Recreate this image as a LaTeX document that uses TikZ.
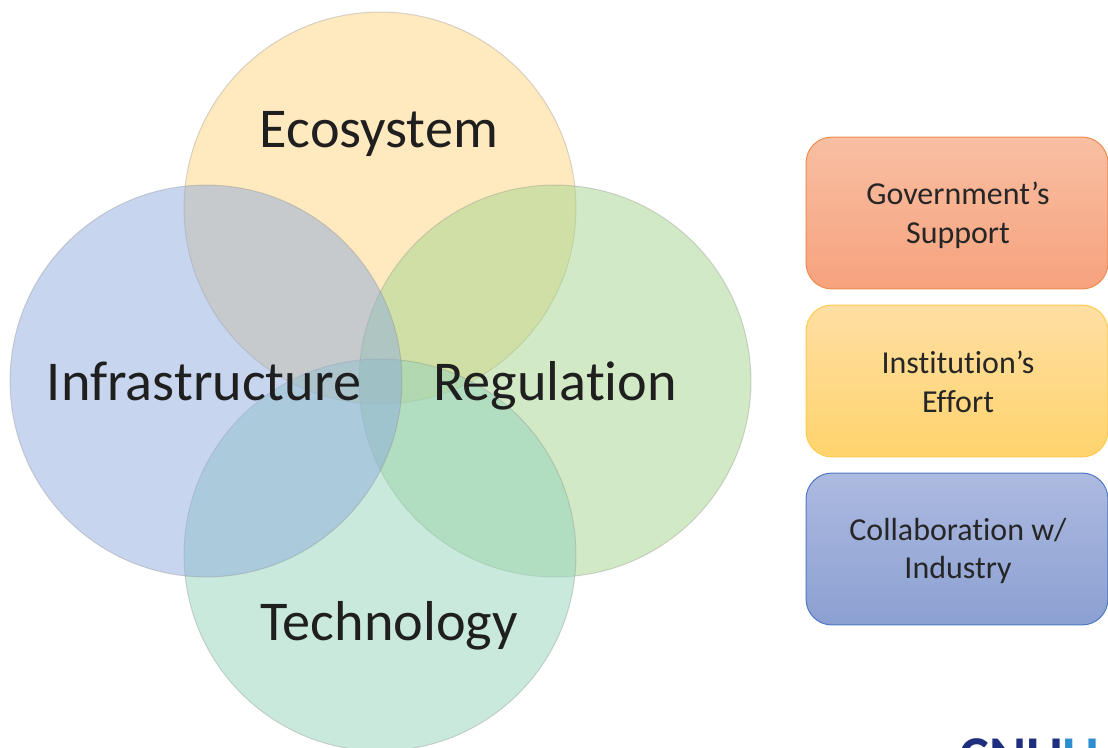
\documentclass[tikz,border=0pt]{standalone}
\usepackage{fontspec}
\setmainfont{Carlito}[Ligatures=NoCommon]
\definecolor{ecosystemfill}{HTML}{FFD57F}
\definecolor{infrafill}{HTML}{8FABDD}
\definecolor{regulationfill}{HTML}{A3D58C}
\definecolor{technologyfill}{HTML}{93D3BB}
\definecolor{supporttop}{HTML}{F8BFA3}
\definecolor{supportbottom}{HTML}{F7A27D}
\definecolor{supportline}{HTML}{EE8B4E}
\definecolor{efforttop}{HTML}{FFDFA3}
\definecolor{effortbottom}{HTML}{FFD36C}
\definecolor{effortline}{HTML}{FFCB4F}
\definecolor{industrytop}{HTML}{ADBAE0}
\definecolor{industrybottom}{HTML}{8BA0D2}
\definecolor{industryline}{HTML}{4F78C6}
\definecolor{logodark}{HTML}{1F2F80}
\definecolor{logolight}{HTML}{2E8FD0}
\begin{document}
\begin{tikzpicture}[
	x=0.02cm,
	y=-0.02cm,
	line cap=round,
	line join=round,
	every node/.style={align=center},
	area/.style={
		shape=circle,
		minimum size=7.84cm,
		inner sep=0pt,
		draw=black!45,
		draw opacity=0.35,
		line width=0.02cm,
		fill opacity=0.5
	},
	arealabel/.style={
		font=\fontsize{32}{38}\selectfont,
		text=black!88
	},
	factor/.style={
		shape=rectangle,
		rounded corners=0.52cm,
		minimum width=6.04cm,
		minimum height=3.04cm,
		line width=0.02cm,
		draw,
		shading angle=0
	},
	factorlabel/.style={
		font=\fontsize{18.2}{22}\selectfont,
		text=black!85
	}
	]
	\useasboundingbox (0,0) rectangle (1108,747);
	% overlapping circles
	\node [area, fill=ecosystemfill] (ecosystem) at (380,208) {};
	\node [area, fill=regulationfill] (regulation) at (555,381) {};
	\node [area, fill=technologyfill] (technology) at (380,555) {};
	\node [area, fill=infrafill] (infrastructure) at (206,381) {};
	\node [arealabel] (ecosystemlabel) at (379,134) {Ecosystem};
	\node [arealabel] (infrastructurelabel) at (204,381) {Infrastructure};
	\node [arealabel] (regulationlabel) at (555,386) {Regulation};
	\node [arealabel] (technologylabel) at (389,626) {Technology};
	% legend
	\node [factor, top color=supporttop, bottom color=supportbottom, draw=supportline] (support) at (957,213) {};
	\node [factor, top color=efforttop, bottom color=effortbottom, draw=effortline] (effort) at (957,381) {};
	\node [factor, top color=industrytop, bottom color=industrybottom, draw=industryline] (industry) at (957,549) {};
	\node [factorlabel] (supportlabel) at (958,215.5) {Government’s\\Support};
	\node [factorlabel] (effortlabel) at (958,382) {Institution’s\\Effort};
	\node [factorlabel] (industrylabel) at (958,551) {Collaboration w/\\Industry};
	% logo, cut off by the page
	\node [anchor=north west, inner sep=0pt, font=\fontsize{32}{38}\selectfont\bfseries] (logo) at (959,738) {\textcolor{logodark}{CNU}\textcolor{logolight}{U}};
\end{tikzpicture}
\end{document}
